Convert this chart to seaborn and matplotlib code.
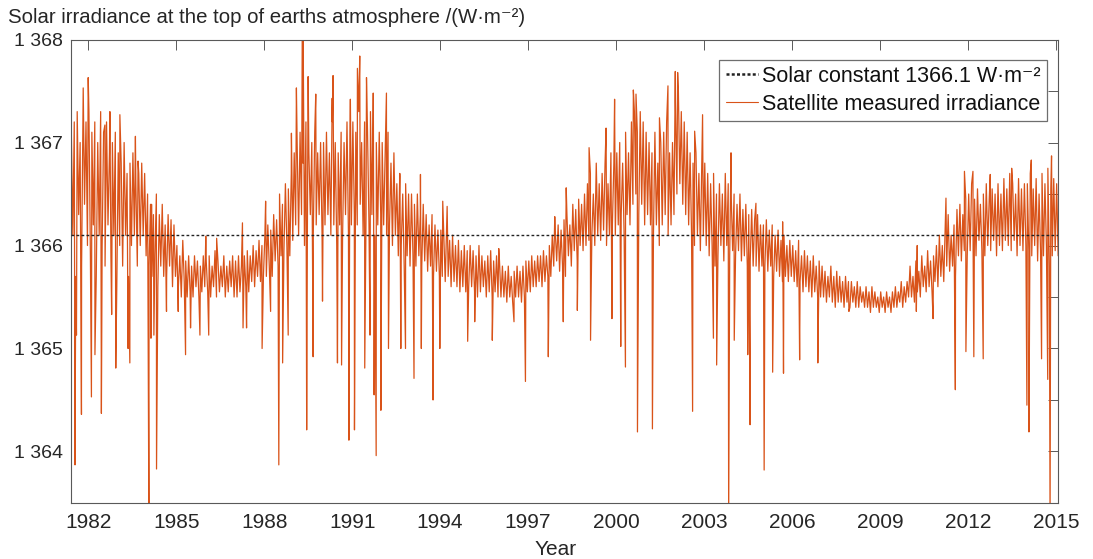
import numpy as np
import pandas as pd
import matplotlib
matplotlib.use("Agg")
import matplotlib.pyplot as plt
import seaborn as sns
from matplotlib.lines import Line2D

# ---------------------------------------------------------------------------
# Data
# ---------------------------------------------------------------------------
SOLAR_CONSTANT = 1366.1          # W/m^2, reference value shown in the legend
BASE = 1366.0                    # anomalies below are relative to this level
START_YEAR = 1981.4              # first 0.1-year bin
STEP = 0.1

# Upper edge of the dense daily band, per 0.1-year bin (W/m^2 above 1366)
band_top = [
    1.1, 1.2, 1.3, 1.0, 1.4, 1.2,                                   # 1981.4-
    1.3, 1.1, 1.2, 1.0, 1.3, 1.1, 1.2, 0.9, 1.0, 1.1,               # 1982
    0.9, 0.8, 1.0, 0.7, 0.8, 0.9, 0.6, 0.7, 0.8, 0.7,               # 1983
    0.5, 0.4, 0.3, 0.5, 0.3, 0.4, 0.2, 0.3, 0.25, 0.2,              # 1984
    0.0, -0.1, 0.05, -0.15, -0.1, -0.2, -0.1, -0.15, -0.2, -0.1,    # 1985
    -0.15, -0.1, -0.2, -0.05, -0.15, -0.2, -0.1, -0.2, -0.15, -0.1, # 1986
    -0.15, -0.1, -0.2, -0.1, -0.05, -0.1, 0.0, -0.05, 0.05, 0.0,    # 1987
    0.1, 0.2, 0.15, 0.3, 0.25, 0.5, 0.4, 0.6, 0.55, 0.7,            # 1988
    0.9, 1.0, 1.1, 0.8, 1.2, 0.9, 1.0, 1.1, 0.9, 1.0,               # 1989
    1.0, 1.1, 0.9, 1.2, 1.0, 0.9, 1.1, 1.0, 1.2, 1.1,               # 1990
    1.2, 1.1, 1.3, 1.0, 1.2, 1.1, 1.3, 1.2, 1.0, 1.1,               # 1991
    1.0, 0.9, 1.1, 0.8, 0.9, 0.6, 0.7, 0.5, 0.6, 0.5,               # 1992
    0.5, 0.4, 0.5, 0.3, 0.4, 0.3, 0.2, 0.3, 0.2, 0.15,              # 1993
    0.15, 0.1, 0.2, 0.05, 0.1, 0.0, 0.05, -0.05, 0.0, -0.05,        # 1994
    0.0, -0.05, -0.1, 0.0, -0.1, -0.15, -0.1, -0.05, -0.15, -0.1,   # 1995
    -0.15, -0.2, -0.25, -0.2, -0.3, -0.25, -0.2, -0.25, -0.2, -0.15,# 1996
    -0.15, -0.1, -0.15, -0.1, -0.1, -0.05, -0.1, 0.0, 0.1, 0.15,    # 1997
    0.2, 0.15, 0.25, 0.3, 0.2, 0.4, 0.35, 0.45, 0.4, 0.5,           # 1998
    0.6, 0.7, 0.5, 0.8, 0.6, 0.7, 0.8, 0.6, 0.9, 0.8,               # 1999
    0.9, 1.0, 0.8, 1.1, 0.9, 1.2, 1.3, 1.1, 1.3, 1.2,               # 2000
    1.1, 1.0, 0.9, 1.1, 0.8, 1.0, 1.1, 1.2, 0.9, 1.0,               # 2001
    1.4, 1.5, 1.3, 1.2, 1.1, 0.9, 0.8, 0.9, 0.7, 0.8,               # 2002
    0.8, 0.7, 0.6, 0.7, 0.5, 0.6, 0.5, 0.7, 0.6, 0.5,               # 2003
    0.5, 0.4, 0.5, 0.35, 0.4, 0.3, 0.35, 0.25, 0.3, 0.2,            # 2004
    0.2, 0.25, 0.15, 0.2, 0.1, 0.15, 0.05, 0.1, 0.0, 0.05,          # 2005
    0.0, -0.05, 0.05, -0.1, -0.05, -0.1, -0.15, -0.1, -0.2, -0.15,  # 2006
    -0.2, -0.25, -0.3, -0.2, -0.3, -0.25, -0.3, -0.35, -0.3, -0.35, # 2007
    -0.35, -0.4, -0.35, -0.4, -0.45, -0.4, -0.45, -0.4, -0.45, -0.5,# 2008
    -0.45, -0.5, -0.45, -0.5, -0.45, -0.4, -0.45, -0.35, -0.4, -0.35,  # 2009
    -0.2, -0.3, -0.15, -0.25, -0.1, -0.2, -0.05, -0.15, -0.1, 0.0,  # 2010
    0.1, 0.0, 0.2, 0.3, 0.1, 0.2, 0.35, 0.4, 0.3, 0.45,             # 2011
    0.5, 0.6, 0.45, 0.55, 0.4, 0.5, 0.6, 0.45, 0.55, 0.5,           # 2012
    0.6, 0.5, 0.65, 0.55, 0.7, 0.6, 0.5, 0.65, 0.55, 0.6,           # 2013
    0.6, 0.7, 0.55, 0.65, 0.5, 0.7, 0.6, 0.75, 0.55, 0.65,          # 2014
    0.6,                                                            # 2015
]

# Lower edge of the dense daily band, per 0.1-year bin (W/m^2 above 1366)
band_bottom = [
    0.1, -0.3, 0.3, -0.2, 0.4, 0.0,
    -0.1, 0.2, -0.3, 0.1, 0.0, -0.2, 0.2, -0.1, 0.1, -0.4,
    0.0, -0.2, 0.1, -0.3, 0.0, 0.1, -0.2, 0.0, 0.1, -0.1,
    -0.2, -0.3, -0.1, -0.4, -0.2, -0.3, -0.3, -0.2, -0.4, -0.3,
    -0.4, -0.5, -0.35, -0.5, -0.45, -0.5, -0.4, -0.5, -0.45, -0.4,
    -0.45, -0.5, -0.4, -0.5, -0.45, -0.4, -0.5, -0.45, -0.4, -0.5,
    -0.5, -0.45, -0.5, -0.4, -0.45, -0.35, -0.4, -0.3, -0.35, -0.3,
    -0.3, -0.2, -0.3, -0.15, -0.2, -0.1, -0.05, 0.0, -0.1, 0.05,
    0.2, 0.1, 0.3, 0.0, 0.2, 0.3, 0.1, 0.2, 0.3, 0.1,
    0.2, 0.3, 0.1, 0.2, 0.0, 0.2, 0.1, 0.3, 0.1, 0.2,
    0.3, 0.2, 0.4, 0.1, 0.3, 0.2, 0.3, 0.1, 0.2, 0.3,
    0.2, 0.1, 0.2, 0.0, 0.1, -0.1, 0.0, -0.2, -0.1, -0.2,
    -0.1, -0.2, -0.1, -0.2, -0.15, -0.25, -0.2, -0.3, -0.25, -0.3,
    -0.3, -0.35, -0.3, -0.4, -0.35, -0.4, -0.45, -0.4, -0.45, -0.4,
    -0.4, -0.45, -0.5, -0.45, -0.4, -0.5, -0.45, -0.5, -0.45, -0.5,
    -0.5, -0.5, -0.55, -0.5, -0.55, -0.5, -0.5, -0.55, -0.5, -0.45,
    -0.45, -0.4, -0.4, -0.35, -0.4, -0.35, -0.3, -0.3, -0.2, -0.15,
    -0.25, -0.2, -0.3, -0.1, -0.2, -0.05, -0.15, 0.0, -0.05, 0.0,
    0.05, 0.1, 0.0, 0.1, 0.05, 0.15, 0.0, 0.1, 0.2, 0.1,
    0.2, 0.3, 0.1, 0.3, 0.2, 0.4, 0.5, 0.3, 0.4, 0.2,
    0.3, 0.2, 0.1, 0.2, 0.0, 0.2, 0.3, 0.1, 0.2, 0.3,
    0.5, 0.6, 0.4, 0.3, 0.2, 0.1, 0.0, 0.1, -0.05, 0.1,
    0.0, -0.1, 0.0, -0.2, -0.1, 0.0, -0.15, 0.0, -0.1, -0.05,
    -0.1, -0.05, -0.15, -0.1, -0.2, -0.15, -0.2, -0.2, -0.25, -0.2,
    -0.2, -0.25, -0.2, -0.3, -0.25, -0.3, -0.35, -0.3, -0.35, -0.3,
    -0.35, -0.4, -0.35, -0.45, -0.4, -0.45, -0.5, -0.45, -0.5, -0.5,
    -0.5, -0.55, -0.5, -0.55, -0.6, -0.55, -0.55, -0.6, -0.55, -0.6,
    -0.55, -0.6, -0.6, -0.55, -0.6, -0.6, -0.65, -0.6, -0.6, -0.65,
    -0.6, -0.65, -0.6, -0.65, -0.6, -0.6, -0.55, -0.6, -0.55, -0.5,
    -0.5, -0.55, -0.45, -0.5, -0.4, -0.45, -0.4, -0.45, -0.35, -0.4,
    -0.3, -0.35, -0.2, -0.25, -0.2, -0.3, -0.1, -0.15, -0.05, -0.1,
    -0.05, 0.0, -0.1, 0.05, -0.05, -0.1, 0.0, -0.05, 0.05, -0.1,
    0.0, -0.05, 0.05, 0.0, -0.05, 0.05, -0.1, 0.0, -0.05, 0.0,
    -0.05, -0.1, 0.0, -0.15, -0.05, -0.1, 0.0, -0.2, -0.1, -0.05,
    -0.1,
]

# Isolated daily excursions (sunspot dips and facular peaks)
spike_years = [
    1981.55, 1981.60, 1981.77, 1981.83, 1982.00, 1982.11, 1982.23, 1982.45,
    1982.57, 1982.74, 1982.80, 1982.94, 1983.08, 1983.36, 1983.42, 1983.61,
    1983.70, 1984.07, 1984.14, 1984.16, 1984.24, 1984.33, 1984.67, 1985.07,
    1985.32, 1985.49, 1985.81, 1986.01, 1986.11, 1986.38, 1987.26, 1987.28,
    1987.40, 1987.93, 1988.05, 1988.22, 1988.50, 1988.63, 1988.82, 1988.93,
    1989.10, 1989.30, 1989.33, 1989.45, 1989.50, 1989.67, 1989.76, 1989.99,
    1990.32, 1990.35, 1990.50, 1990.64, 1990.89, 1990.94, 1991.08, 1991.18,
    1991.26, 1991.43, 1991.49, 1991.61, 1991.72, 1991.75, 1991.82, 1991.98,
    1992.17, 1992.24, 1992.63, 1992.66, 1992.82, 1993.11, 1993.33, 1993.36,
    1993.76, 1993.99, 1994.09, 1994.24, 1994.94, 1995.18, 1995.78, 1996.00,
    1996.52, 1996.91, 1997.69, 1997.91, 1998.20, 1998.30, 1998.68, 1999.08,
    1999.13, 1999.66, 1999.86, 1999.95, 2000.16, 2000.32, 2000.59, 2000.68,
    2000.73, 2001.24, 2001.48, 2001.77, 2002.02, 2002.10, 2002.61, 2002.68,
    2002.95, 2003.32, 2003.43, 2003.84, 2003.92, 2004.03, 2004.49, 2004.57,
    2004.77, 2005.05, 2005.34, 2005.68, 2005.71, 2006.26, 2006.88, 2007.94,
    2010.24, 2010.27, 2010.81, 2011.25, 2011.57, 2011.88, 2011.93, 2012.17,
    2012.20, 2012.52, 2012.76, 2013.49, 2014.01, 2014.08, 2014.16, 2014.51,
    2014.72, 2014.80, 2014.85,
]
spike_values = [
    1363.87, 1365.13, 1364.36, 1367.53, 1367.63, 1364.53, 1364.94, 1364.37,
    1367.17, 1367.30, 1365.33, 1364.81, 1367.27, 1365.00, 1364.86, 1367.06,
    1366.82, 1363.30, 1365.10, 1366.40, 1365.13, 1363.83, 1365.36, 1365.36,
    1364.94, 1365.20, 1365.13, 1366.09, 1365.13, 1366.07, 1366.22, 1365.20,
    1365.20, 1365.00, 1366.43, 1365.36, 1363.87, 1364.86, 1365.13, 1367.09,
    1367.53, 1368.10, 1368.05, 1364.21, 1367.64, 1364.92, 1367.47, 1365.46,
    1367.43, 1367.65, 1364.86, 1364.84, 1364.11, 1367.42, 1364.21, 1367.72,
    1367.84, 1364.81, 1367.63, 1365.13, 1367.48, 1364.55, 1363.96, 1364.40,
    1367.48, 1365.00, 1366.67, 1365.00, 1365.00, 1364.71, 1366.69, 1365.00,
    1364.50, 1365.00, 1366.43, 1366.38, 1365.07, 1365.26, 1365.08, 1365.97,
    1365.26, 1364.68, 1364.92, 1366.28, 1365.26, 1366.56, 1365.37, 1366.95,
    1365.08, 1367.14, 1365.29, 1367.42, 1365.02, 1364.82, 1367.51, 1367.47,
    1364.19, 1364.22, 1367.24, 1367.55, 1367.69, 1367.68, 1364.39, 1367.11,
    1367.27, 1365.10, 1364.84, 1363.30, 1366.90, 1365.08, 1364.94, 1364.26,
    1366.41, 1363.82, 1364.77, 1366.23, 1364.76, 1364.89, 1364.86, 1365.36,
    1365.36, 1366.00, 1365.29, 1366.46, 1364.60, 1366.72, 1364.97, 1366.72,
    1364.92, 1364.90, 1366.69, 1366.75, 1364.45, 1364.19, 1366.83, 1364.90,
    1364.70, 1363.30, 1366.87,
]

x_tick_years = [1982, 1985, 1988, 1991, 1994, 1997, 2000, 2003, 2006, 2009, 2012, 2015]

# ---------------------------------------------------------------------------
# Assemble the record: band edges alternate inside every bin, excursions merged in time
# ---------------------------------------------------------------------------
bin_start = START_YEAR + STEP * np.arange(len(band_top))
times = np.concatenate([bin_start + 0.25 * STEP, bin_start + 0.75 * STEP, np.array(spike_years)])
values = np.concatenate([BASE + np.array(band_top), BASE + np.array(band_bottom), np.array(spike_values)])
order = np.argsort(times, kind="stable")
record = pd.DataFrame({"year": times[order], "irradiance": values[order]})

# ---------------------------------------------------------------------------
# Styling
# ---------------------------------------------------------------------------
sns.set_theme(style="white")
plt.rcParams["font.family"] = ["Liberation Sans", "DejaVu Sans"]
plt.rcParams["axes.unicode_minus"] = False

LINE_COLOR = "#D95319"
AXIS_COLOR = "#595959"
TEXT_COLOR = "#262626"

fig = plt.figure(figsize=(10.93, 5.59), dpi=100)
ax = fig.add_axes([0.0654, 0.1002, 0.9023, 0.8291])

sns.lineplot(data=record, x="year", y="irradiance", ax=ax, sort=False,
             estimator=None, color=LINE_COLOR, linewidth=0.9, legend=False)
ax.axhline(SOLAR_CONSTANT, color="#222222", linestyle=(0, (2.0, 1.6)),
           linewidth=1.0, zorder=5)

ax.set_xlim(1981.43, 2015.06)
ax.set_ylim(1363.5, 1368.0)

ax.set_xticks(x_tick_years)
ax.set_xticklabels([str(y) for y in x_tick_years])
y_ticks = np.arange(1363.5, 1368.01, 0.5)
ax.set_yticks(y_ticks)
ax.set_yticklabels([f"{int(v):,}".replace(",", " ") if float(v).is_integer() else "" for v in y_ticks])

ax.tick_params(axis="both", direction="in", length=7.2, width=0.7, color=AXIS_COLOR,
               top=True, right=True, labelcolor=TEXT_COLOR)
ax.tick_params(axis="x", labelsize=15, pad=7)
ax.tick_params(axis="y", labelsize=14, pad=6)
for side in ax.spines.values():
    side.set_visible(True)
    side.set_color(AXIS_COLOR)
    side.set_linewidth(0.8)

ax.set_xlabel("")
ax.set_ylabel("")
fig.text(556 / 1093, 4 / 559, "Year", ha="center", va="baseline",
         fontsize=15, color=TEXT_COLOR)
fig.text(8 / 1093, 1 - 23 / 559,
         "Solar irradiance at the top of earths atmosphere /(W\u00b7m\u207b\u00b2)",
         ha="left", va="baseline", fontsize=14.7, color=TEXT_COLOR)

handles = [
    Line2D([], [], color="#222222", linestyle=(0, (1.2, 0.9)), linewidth=1.8),
    Line2D([], [], color=LINE_COLOR, linewidth=0.8),
]
labels = [f"Solar constant {SOLAR_CONSTANT:.1f} W\u00b7m\u207b\u00b2", "Satellite measured irradiance"]
leg = ax.legend(handles, labels, loc="upper right", bbox_to_anchor=(0.9888, 0.9558),
                borderaxespad=0, fontsize=15.5, frameon=True, fancybox=False,
                framealpha=1, edgecolor="#6e6e6e", borderpad=0.28,
                handlelength=1.5, handletextpad=0.2, labelspacing=0.32)
leg.get_frame().set_linewidth(0.9)
for t in leg.get_texts():
    t.set_color("#111111")

fig.savefig("out.png", dpi=100)
